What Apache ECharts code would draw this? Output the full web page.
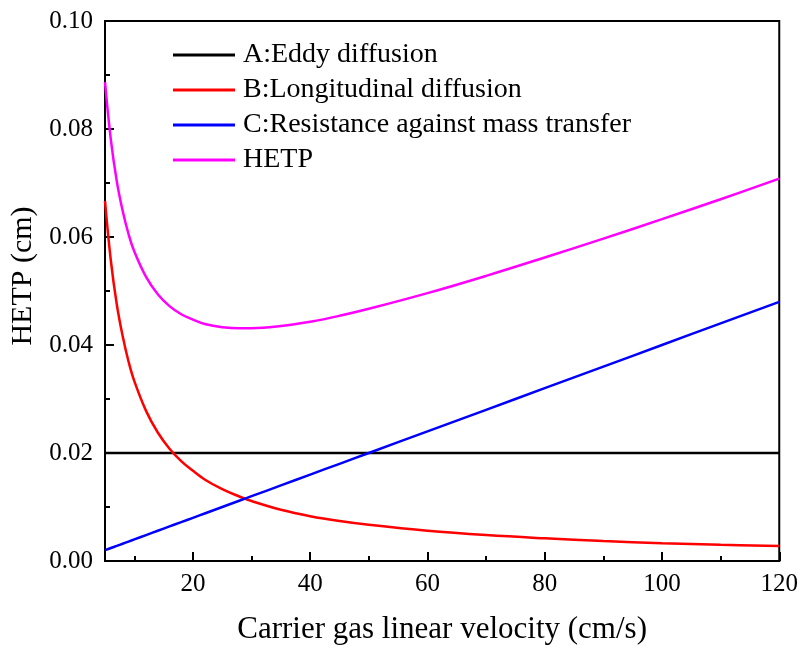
<!DOCTYPE html>
<html>
<head>
<meta charset="utf-8">
<script src="https://cdn.jsdelivr.net/npm/echarts@6/dist/echarts.min.js"></script>
<style>
  html, body { margin: 0; padding: 0; background: #fff; }
  #chart { width: 801px; height: 650px; }
</style>
</head>
<body>
<div id="chart"></div>
<script>
// values
var velocity = [5, 6, 7, 8, 9, 10, 12, 14, 16, 18, 20, 22, 25, 28, 30, 35, 40, 45, 50, 60, 70, 80, 90, 100, 110, 120];
var eddy = [0.02, 0.02, 0.02, 0.02, 0.02, 0.02, 0.02, 0.02, 0.02, 0.02, 0.02, 0.02, 0.02, 0.02, 0.02, 0.02, 0.02, 0.02, 0.02, 0.02, 0.02, 0.02, 0.02, 0.02, 0.02, 0.02];
var longitudinal = [0.0667, 0.0556, 0.0476, 0.0417, 0.0370, 0.0333, 0.0278, 0.0238, 0.0208, 0.0185, 0.0167, 0.0151, 0.0133, 0.0119, 0.0111, 0.0095, 0.0083, 0.0074, 0.0067, 0.0056, 0.0048, 0.0042, 0.0037, 0.0033, 0.0030, 0.0028];
var massTransfer = [0.0020, 0.0024, 0.0028, 0.0032, 0.0036, 0.0040, 0.0048, 0.0056, 0.0064, 0.0072, 0.0080, 0.0088, 0.0100, 0.0112, 0.0120, 0.0140, 0.0160, 0.0180, 0.0200, 0.0240, 0.0280, 0.0320, 0.0360, 0.0400, 0.0440, 0.0480];
var hetp = [0.0887, 0.0780, 0.0704, 0.0649, 0.0606, 0.0573, 0.0526, 0.0494, 0.0472, 0.0457, 0.0447, 0.0439, 0.0433, 0.0431, 0.0431, 0.0435, 0.0443, 0.0454, 0.0467, 0.0496, 0.0528, 0.0562, 0.0597, 0.0633, 0.0670, 0.0708];

var seriesNames = ['A:Eddy diffusion', 'B:Longitudinal diffusion', 'C:Resistance against mass transfer', 'HETP'];
var seriesColors = ['#000000', '#ff0000', '#0000ff', '#ff00ff'];
var xMajorTicks = [20, 40, 60, 80, 100, 120];
var xMinorTicks = [10, 30, 50, 70, 90, 110];

var font = '"Liberation Serif", "Times New Roman", serif';

function pairs(ys) {
  return velocity.map(function (x, i) { return [x, ys[i]]; });
}

var allValues = [eddy, longitudinal, massTransfer, hetp];

var myChart = echarts.init(document.getElementById('chart'));

var option = {
  backgroundColor: '#fff',
  animation: false,
  grid: {
    left: 105, right: 21, top: 21, bottom: 87,
    show: true, borderColor: '#000', borderWidth: 2
  },
  legend: {
    orient: 'vertical',
    left: 173, top: 41,
    padding: 0,
    icon: 'rect',
    itemWidth: 62, itemHeight: 3,
    itemGap: 7,
    data: seriesNames,
    textStyle: { fontFamily: font, fontSize: 28, color: '#000', lineHeight: 28, padding: [0, 0, 0, 3] }
  },
  xAxis: [{
    type: 'value', min: 5, max: 120,
    name: 'Carrier gas linear velocity (cm/s)',
    nameLocation: 'middle', nameGap: 53,
    nameTextStyle: { fontFamily: font, fontSize: 31, color: '#000' },
    axisLine: { lineStyle: { color: '#000', width: 2 } },
    axisTick: { inside: true, length: 9, customValues: xMajorTicks, lineStyle: { color: '#000', width: 2 } },
    axisLabel: { customValues: xMajorTicks, fontFamily: font, fontSize: 25, color: '#000', margin: 11 },
    splitLine: { show: false }
  }, {
    type: 'value', min: 5, max: 120, position: 'bottom',
    axisLine: { show: false },
    axisTick: { inside: true, length: 5, customValues: xMinorTicks, lineStyle: { color: '#000', width: 2 } },
    axisLabel: { show: false },
    splitLine: { show: false }
  }],
  yAxis: {
    type: 'value', min: 0, max: 0.1, interval: 0.02,
    name: 'HETP (cm)',
    nameLocation: 'middle', nameGap: 61,
    nameTextStyle: { fontFamily: font, fontSize: 30, color: '#000', padding: [0, 0, 0, 30] },
    axisLine: { show: true, lineStyle: { color: '#000', width: 2 } },
    axisTick: { inside: true, length: 9, lineStyle: { color: '#000', width: 2 } },
    minorTick: { show: true, splitNumber: 2, length: 5, lineStyle: { color: '#000', width: 2 } },
    axisLabel: {
      fontFamily: font, fontSize: 25, color: '#000', margin: 12,
      formatter: function (v) { return v.toFixed(2); }
    },
    splitLine: { show: false }
  },
  series: seriesNames.map(function (name, i) {
    return {
      name: name,
      type: 'line',
      xAxisIndex: 0,
      data: pairs(allValues[i]),
      smooth: 0.4,
      showSymbol: false,
      symbol: 'none',
      color: seriesColors[i],
      lineStyle: { color: seriesColors[i], width: 2.5 },
      z: 3 + i
    };
  })
};

myChart.setOption(option);
</script>
</body>
</html>
